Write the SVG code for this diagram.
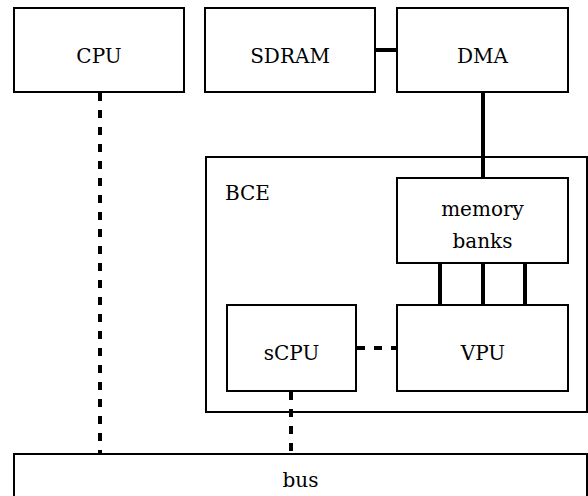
<svg xmlns="http://www.w3.org/2000/svg" width="588" height="496" viewBox="0 0 588 496">
  <style>
    .box { fill: #fff; stroke: #000; stroke-width: 2; }
    .lbl { font-family: "DejaVu Serif", serif; font-size: 20px; fill: #000; text-anchor: middle; }
    .solid { stroke: #000; stroke-width: 4; fill: none; }
    .dash { stroke: #000; stroke-width: 4; fill: none; stroke-dasharray: 8 9; }
  </style>
  <rect width="588" height="496" fill="#fff"/>

  <!-- BCE container -->
  <g id="BCE">
    <rect class="box" x="206" y="157" width="381" height="255"/>
    <text class="lbl" x="225" y="200" style="text-anchor:start">BCE</text>
  </g>

  <!-- connectors -->
  <g id="connectors">
    <line class="solid" x1="375" y1="50" x2="397" y2="50"/>
    <line class="solid" x1="483" y1="92" x2="483" y2="178"/>
    <line class="solid" x1="440" y1="263" x2="440" y2="305"/>
    <line class="solid" x1="483" y1="263" x2="483" y2="305"/>
    <line class="solid" x1="525" y1="263" x2="525" y2="305"/>
    <line class="dash" x1="100" y1="93" x2="100" y2="454"/>
    <line class="dash" x1="357" y1="348" x2="397" y2="348"/>
    <line class="dash" x1="291" y1="392" x2="291" y2="454"/>
  </g>

  <g id="CPU">
    <rect class="box" x="14" y="8" width="170" height="84"/>
    <text class="lbl" x="99" y="63">CPU</text>
  </g>
  <g id="SDRAM">
    <rect class="box" x="205" y="8" width="170" height="84"/>
    <text class="lbl" x="290" y="63">SDRAM</text>
  </g>
  <g id="DMA">
    <rect class="box" x="397" y="8" width="171" height="84"/>
    <text class="lbl" x="482.5" y="63">DMA</text>
  </g>
  <g id="memory-banks">
    <rect class="box" x="397" y="178" width="171" height="85"/>
    <text class="lbl" x="482.5" y="216">memory</text>
    <text class="lbl" x="482.5" y="248">banks</text>
  </g>
  <g id="sCPU">
    <rect class="box" x="227" y="305" width="129" height="86"/>
    <text class="lbl" x="291.5" y="360">sCPU</text>
  </g>
  <g id="VPU">
    <rect class="box" x="397" y="305" width="171" height="86"/>
    <text class="lbl" x="483" y="360">VPU</text>
  </g>
  <g id="bus">
    <rect class="box" x="14" y="454" width="573" height="60"/>
    <text class="lbl" x="300.5" y="487">bus</text>
  </g>
</svg>
